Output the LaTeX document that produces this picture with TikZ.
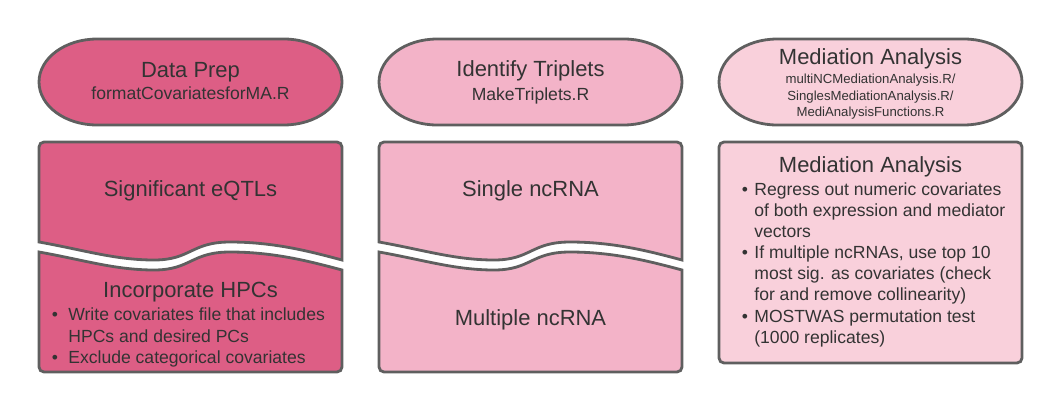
\documentclass[tikz,border=0pt]{standalone}
\usepackage{fontspec}
\setmainfont{Liberation Sans}
\usetikzlibrary{positioning}
\definecolor{prepPink}{RGB}{221, 94, 133}
\definecolor{tripPink}{RGB}{243, 179, 200}
\definecolor{mediPink}{RGB}{249, 208, 219}
\definecolor{edgeGray}{RGB}{95, 95, 95}
\definecolor{txtGray}{RGB}{51, 51, 51}

\begin{document}
\begin{tikzpicture}[x=0.02cm, y=-0.02cm,
  boxedge/.style={draw=edgeGray, line width=1.6pt},
  pillend/.style={x radius=1.16cm, y radius=0.86cm},
  head/.style={text=txtGray, inner sep=0pt, anchor=base, font=\fontsize{12.5}{15}\selectfont},
  body/.style={text=txtGray, inner sep=0pt, anchor=base west, font=\fontsize{10}{12}\selectfont},
  small/.style={text=txtGray, inner sep=0pt, anchor=base, font=\fontsize{7.5}{9}\selectfont},
  dot/.style={text=txtGray, inner sep=0pt, anchor=base, font=\fontsize{10}{12}\selectfont}]
  \useasboundingbox (0,0) rectangle (1060,412);

  % COLUMN 1: Data Prep
  \draw[boxedge, fill=prepPink] (97,39) -- (284,39) arc[pillend, start angle=90, end angle=-90]
    -- (97,125) arc[pillend, start angle=270, end angle=90] -- cycle;
  \node[head] (prepT) at (190.5,77) {Data Prep};
  \node[head, font=\fontsize{10}{12}\selectfont] (prepS) at (190.5,99) {formatCovariatesforMA.R};
  % upper piece
  \draw[boxedge, fill=prepPink] (342,260)
    .. controls (312,252) and (275,242) .. (230,242)
    .. controls (191,242) and (191,260) .. (154,260)
    .. controls (115,260) and (84,250) .. (39,242)
    [rounded corners=0.1cm] -- (39,142) -- (342,142) [sharp corners] -- cycle;
  \node[head] (eqtl) at (190.5,196) {Significant eQTLs};
  % lower piece
  \draw[boxedge, fill=prepPink] (39,252)
    .. controls (84,260) and (115,270) .. (154,270)
    .. controls (191,270) and (191,252) .. (230,252)
    .. controls (275,252) and (312,262) .. (342,270)
    [rounded corners=0.1cm] -- (342,372) -- (39,372) [sharp corners] -- cycle;
  \node[head] (hpc) at (190.5,297) {Incorporate HPCs};
  \node[dot] (hpcD1) at (55,320) {\textbullet};
  \node[body] (hpcL1) at (68,320) {Write covariates file that includes};
  \node[body] (hpcL2) at (68,342) {HPCs and desired PCs};
  \node[dot] (hpcD2) at (55,363) {\textbullet};
  \node[body] (hpcL3) at (68,363) {Exclude categorical covariates};

  % COLUMN 2: Identify Triplets
  \draw[boxedge, fill=tripPink] (437,39) -- (624,39) arc[pillend, start angle=90, end angle=-90]
    -- (437,125) arc[pillend, start angle=270, end angle=90] -- cycle;
  \node[head] (tripT) at (530.5,76) {Identify Triplets};
  \node[head, font=\fontsize{10}{12}\selectfont] (tripS) at (530.5,100) {MakeTriplets.R};
  % upper piece
  \draw[boxedge, fill=tripPink] (682,260)
    .. controls (652,252) and (615,242) .. (570,242)
    .. controls (531,242) and (531,260) .. (494,260)
    .. controls (455,260) and (424,250) .. (379,242)
    [rounded corners=0.1cm] -- (379,142) -- (682,142) [sharp corners] -- cycle;
  \node[head] (single) at (530.5,196) {Single ncRNA};
  % lower piece
  \draw[boxedge, fill=tripPink] (379,252)
    .. controls (424,260) and (455,270) .. (494,270)
    .. controls (531,270) and (531,252) .. (570,252)
    .. controls (615,252) and (652,262) .. (682,270)
    [rounded corners=0.1cm] -- (682,372) -- (379,372) [sharp corners] -- cycle;
  \node[head] (multi) at (530.5,325) {Multiple ncRNA};

  % COLUMN 3: Mediation Analysis
  \draw[boxedge, fill=mediPink] (777,39) -- (964,39) arc[pillend, start angle=90, end angle=-90]
    -- (777,125) arc[pillend, start angle=270, end angle=90] -- cycle;
  \node[head] (mediT) at (870.5,65) {Mediation Analysis};
  \node[small] (mediS1) at (870.5,84) {multiNCMediationAnalysis.R/};
  \node[small] (mediS2) at (870.5,100) {SinglesMediationAnalysis.R/};
  \node[small] (mediS3) at (870.5,116) {MediAnalysisFunctions.R};
  \draw[boxedge, rounded corners=0.1cm, fill=mediPink] (719,142) rectangle (1022,363);
  \node[head] (medBox) at (870.5,172) {Mediation Analysis};
  \node[dot] (medD1) at (745,195) {\textbullet};
  \node[body] (medL1) at (754,195) {Regress out numeric covariates};
  \node[body] (medL2) at (754,216) {of both expression and mediator};
  \node[body] (medL3) at (754,237) {vectors};
  \node[dot] (medD2) at (745,258) {\textbullet};
  \node[body] (medL4) at (754,258) {If multiple ncRNAs, use top 10};
  \node[body] (medL5) at (754,279) {most sig. as covariates (check};
  \node[body] (medL6) at (754,300) {for and remove collinearity)};
  \node[dot] (medD3) at (745,322) {\textbullet};
  \node[body] (medL7) at (754,322) {MOSTWAS permutation test};
  \node[body] (medL8) at (754,343) {(1000 replicates)};
\end{tikzpicture}
\end{document}
